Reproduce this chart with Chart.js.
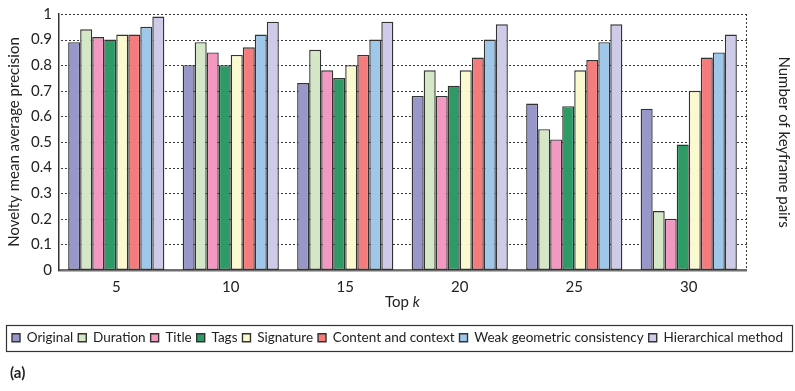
<!DOCTYPE html>
<html>
<head>
<meta charset="utf-8">
<script src="https://cdn.jsdelivr.net/npm/chart.js@4"></script>
<style>
  html, body { margin: 0; padding: 0; background: #fff; }
  #wrap { width: 795px; height: 391px; position: relative; }
</style>
</head>
<body>
<div id="wrap"><canvas id="c" width="795" height="391"></canvas></div>
<script>
// Top-k cut-offs on the x axis
const topK = ['5', '10', '15', '20', '25', '30'];

// Novelty mean average precision per method
const original       = [0.89, 0.80, 0.73, 0.68, 0.65, 0.63];
const duration       = [0.94, 0.89, 0.86, 0.78, 0.55, 0.23];
const titleScores    = [0.91, 0.85, 0.78, 0.68, 0.51, 0.20];
const tags           = [0.90, 0.80, 0.75, 0.72, 0.64, 0.49];
const signature      = [0.92, 0.84, 0.80, 0.78, 0.78, 0.70];
const contentContext = [0.92, 0.87, 0.84, 0.83, 0.82, 0.83];
const weakGeometric  = [0.95, 0.92, 0.90, 0.90, 0.89, 0.85];
const hierarchical   = [0.99, 0.97, 0.97, 0.96, 0.96, 0.92];

const methodNames = ['Original', 'Duration', 'Title', 'Tags', 'Signature',
  'Content and context', 'Weak geometric consistency', 'Hierarchical method'];
const methodColors = ['#9797c9', '#d4e7c6', '#f398c0', '#2e9a66', '#fbf9d0',
  '#f47c7d', '#9fc7ea', '#cdcbe7'];
const methodValues = [original, duration, titleScores, tags, signature,
  contentContext, weakGeometric, hierarchical];

const FONT = 'Lato, "Open Sans", sans-serif';
const INK = '#222';

// Dotted horizontal grid and dotted right frame, drawn behind the bars
const dottedGrid = {
  id: 'dottedGrid',
  beforeDatasetsDraw(chart) {
    const ctx = chart.ctx;
    const area = chart.chartArea;
    const y = chart.scales.y;
    const left = Math.round(area.left) + 2;
    const right = Math.round(area.right);
    ctx.save();
    ctx.fillStyle = '#3a3a3a';
    for (let i = 0; i < y.ticks.length; i++) {
      const v = y.ticks[i].value;
      if (v <= 0) continue;
      const py = Math.round(y.getPixelForValue(v));
      for (let x = left; x < right; x += 4) {
        ctx.fillRect(x, py, 2, 1);
      }
    }
    const top = Math.round(area.top);
    const bottom = Math.round(area.bottom);
    for (let yy = top; yy < bottom; yy += 4) {
      ctx.fillRect(right, yy, 1, 2);
    }
    ctx.restore();
  }
};

// Frame around the legend, "Top k" axis caption and the panel tag
const decorations = {
  id: 'decorations',
  afterDraw(chart) {
    const ctx = chart.ctx;
    const area = chart.chartArea;
    ctx.save();
    ctx.fillStyle = INK;
    ctx.textBaseline = 'middle';
    const normal = '15px ' + FONT;
    const italic = 'italic 15px ' + FONT;
    ctx.font = normal;
    const w1 = ctx.measureText('Top ').width;
    ctx.font = italic;
    const w2 = ctx.measureText('k').width;
    const cx = (area.left + area.right) / 2;
    const x0 = cx - (w1 + w2) / 2;
    ctx.font = normal;
    ctx.textAlign = 'left';
    ctx.fillText('Top ', x0, area.bottom + 32);
    ctx.font = italic;
    ctx.fillText('k', x0 + w1, area.bottom + 32);

    const boxes = chart.legend.legendHitBoxes;
    if (boxes && boxes.length) {
      let minX = Infinity, maxX = -Infinity, minY = Infinity, maxY = -Infinity;
      boxes.forEach(b => {
        minX = Math.min(minX, b.left);
        maxX = Math.max(maxX, b.left + b.width);
        minY = Math.min(minY, b.top);
        maxY = Math.max(maxY, b.top + b.height);
      });
      ctx.strokeStyle = '#333';
      ctx.lineWidth = 1.2;
      ctx.strokeRect(Math.round(minX - 6) + 0.5, Math.round(minY - 6) + 0.5,
        Math.round(maxX - minX + 15), Math.round(maxY - minY + 12));
    }

    ctx.font = 'bold 15px ' + FONT;
    ctx.textAlign = 'left';
    ctx.fillText('(a)', 10, 373);
    ctx.restore();
  }
};

// Keep the value axes from reserving extra room above the plot
const noEdgePadding = s => { s.paddingTop = 0; s.paddingBottom = 0; };

new Chart(document.getElementById('c'), {
  type: 'bar',
  data: {
    labels: topK,
    datasets: methodNames.map((name, i) => ({
      label: name,
      data: methodValues[i],
      backgroundColor: methodColors[i],
      borderColor: '#333',
      borderWidth: 1.4,
      borderSkipped: false,
      categoryPercentage: 0.84,
      barPercentage: 1.0
    }))
  },
  options: {
    responsive: false,
    animation: false,
    devicePixelRatio: 1,
    layout: { padding: { top: 14, bottom: 36.5, left: 0, right: 0 } },
    plugins: {
      tooltip: { enabled: false },
      legend: {
        position: 'bottom',
        labels: {
          font: { family: FONT, size: 13.5 },
          color: INK,
          boxWidth: 8,
          boxHeight: 8,
          padding: 5
        }
      }
    },
    scales: {
      x: {
        grid: { display: false },
        border: { color: '#6f6f6f', width: 2.5 },
        ticks: { font: { family: FONT, size: 15 }, color: INK, padding: 0 },
        afterFit(s) { s.height = 56; }
      },
      y: {
        min: 0,
        max: 1,
        ticks: {
          stepSize: 0.1,
          font: { family: FONT, size: 15 },
          color: INK,
          padding: 7,
          callback: v => (v === 0 || v === 1) ? String(v) : v.toFixed(1)
        },
        grid: { display: false, drawTicks: false },
        border: { display: true, color: '#333', width: 1.5 },
        title: {
          display: true,
          text: 'Novelty mean average precision',
          font: { family: FONT, size: 15 },
          color: INK,
          padding: { top: 5, bottom: 0 }
        },
        afterFit(s) { s.width = 59; noEdgePadding(s); }
      },
      y2: {
        position: 'right',
        min: 0,
        max: 1,
        grid: { display: false, drawTicks: false },
        ticks: { display: false },
        border: { display: false },
        title: {
          display: true,
          text: 'Number of keyframe pairs',
          font: { family: FONT, size: 15 },
          color: INK,
          padding: { top: 2, bottom: 0 }
        },
        afterFit(s) { s.width = 49; noEdgePadding(s); }
      }
    }
  },
  plugins: [dottedGrid, decorations]
});
</script>
</body>
</html>
